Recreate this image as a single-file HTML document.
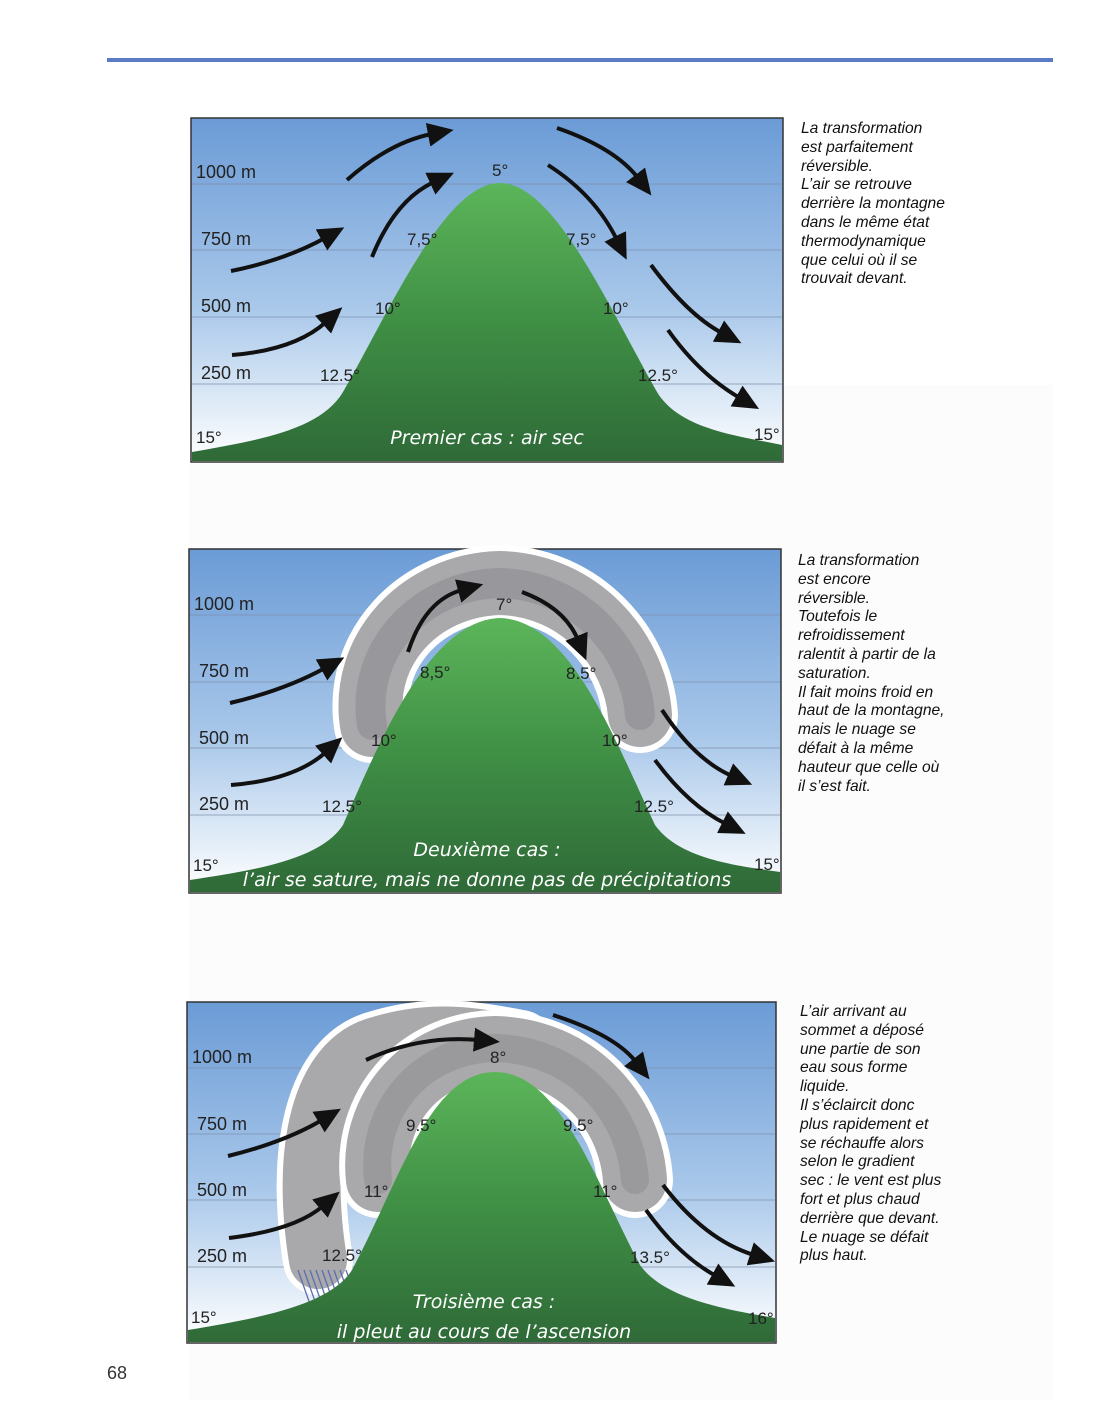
<!DOCTYPE html>
<html><head><meta charset="utf-8"><style>
html,body{margin:0;padding:0;background:#fff;}
body{width:1100px;height:1422px;position:relative;overflow:hidden;font-family:"Liberation Sans",sans-serif;}
.t{position:absolute;font-style:italic;font-size:15.6px;line-height:18.8px;color:#111;}
</style></head><body>
<svg width="1100" height="1422" style="position:absolute;left:0;top:0" font-family="Liberation Sans, sans-serif">
<defs>
<linearGradient id="sky" x1="0" y1="0" x2="0" y2="1">
<stop offset="0" stop-color="#6b9bd6"/><stop offset="0.55" stop-color="#a9c8ea"/><stop offset="1" stop-color="#ffffff"/></linearGradient>
<linearGradient id="mt" x1="0" y1="0" x2="0" y2="1">
<stop offset="0" stop-color="#5cb55a"/><stop offset="0.5" stop-color="#3f8f45"/><stop offset="1" stop-color="#2f6a38"/></linearGradient>
<marker id="ah" markerUnits="userSpaceOnUse" markerWidth="26" markerHeight="24" refX="4" refY="12" orient="auto">
<path d="M0,0 L26,12 L0,24 Z" fill="#111"/></marker>
</defs>
<rect x="0" y="0" width="1100" height="1422" fill="#fff"/>
<rect x="190" y="385" width="863" height="1015" fill="#fcfcfc"/>
<rect x="107" y="58" width="946" height="4" fill="#5b7cc4"/>

<!-- Panel 1 -->
<g>
<rect x="191" y="118" width="592" height="344" fill="url(#sky)" stroke="#333" stroke-width="1.5"/>
<g stroke="#7a8ea8" stroke-width="1" opacity="0.7"><line x1="192" y1="184" x2="782" y2="184"/><line x1="192" y1="250" x2="782" y2="250"/><line x1="192" y1="317" x2="782" y2="317"/><line x1="192" y1="384" x2="782" y2="384"/></g>
<path d="M192,461 L192,452 C260,440 320,430 343,392 C390,310 445,183 500,183 C555,183 610,310 657,392 C680,430 740,436 782,445 L782,461 Z" fill="url(#mt)"/>
<g font-size="18" fill="#222"><text x="196" y="178">1000 m</text><text x="201" y="245">750 m</text><text x="201" y="312">500 m</text><text x="201" y="379">250 m</text></g>
<g font-size="17" fill="#222"><text x="492" y="176">5°</text><text x="407" y="245">7,5°</text><text x="566" y="245">7,5°</text><text x="375" y="314">10°</text><text x="603" y="314">10°</text><text x="320" y="381">12.5°</text><text x="638" y="381">12.5°</text><text x="196" y="443">15°</text><text x="754" y="440">15°</text></g>
<text x="487" y="444" font-size="19" fill="#fff" text-anchor="middle" font-family="DejaVu Sans, sans-serif" font-style="italic">Premier cas : air sec</text>
<g fill="none" stroke="#111" stroke-width="4" marker-end="url(#ah)">
<path d="M347,180 Q390,142 432,134"/><path d="M372,257 Q395,200 434,182"/><path d="M231,271 Q285,260 325,238"/><path d="M232,355 Q295,350 326,322"/>
<path d="M557,128 Q615,148 638,178"/><path d="M548,165 Q595,195 617,240"/><path d="M651,265 Q688,315 722,333"/><path d="M668,330 Q700,375 740,398"/></g>
</g>

<!-- Panel 2 -->
<g>
<rect x="189" y="549" width="592" height="344" fill="url(#sky)" stroke="#333" stroke-width="1.5"/>
<g stroke="#7a8ea8" stroke-width="1" opacity="0.7"><line x1="190" y1="615" x2="780" y2="615"/><line x1="190" y1="682" x2="780" y2="682"/><line x1="190" y1="748" x2="780" y2="748"/><line x1="190" y1="815" x2="780" y2="815"/></g>
<g fill="none" stroke-linecap="round">
<path d="M372,725 C360,650 420,585 500,583 C580,585 635,650 640,715" stroke="#fff" stroke-width="76"/>
<path d="M372,725 C360,650 420,585 500,583 C580,585 635,650 640,715" stroke="#a9a9ab" stroke-width="64"/>
<path d="M372,725 C360,650 420,585 500,583 C580,585 635,650 640,715" stroke="#8e8e92" stroke-width="30" opacity="0.6"/>
</g>
<path d="M190,892 L190,880 C255,870 320,860 343,825 C380,740 430,620 500,618 C570,620 615,740 655,825 C680,860 740,866 780,872 L780,892 Z" fill="url(#mt)"/>
<g font-size="18" fill="#222"><text x="194" y="610">1000 m</text><text x="199" y="677">750 m</text><text x="199" y="744">500 m</text><text x="199" y="810">250 m</text></g>
<g font-size="17" fill="#222"><text x="496" y="610">7°</text><text x="420" y="678">8,5°</text><text x="566" y="679">8.5°</text><text x="371" y="746">10°</text><text x="602" y="746">10°</text><text x="322" y="812">12.5°</text><text x="634" y="812">12.5°</text><text x="193" y="871">15°</text><text x="754" y="870">15°</text></g>
<g font-size="19" fill="#fff" text-anchor="middle" font-family="DejaVu Sans, sans-serif" font-style="italic"><text x="487" y="856">Deuxième cas :</text><text x="487" y="886">l’air se sature, mais ne donne pas de précipitations</text></g>
<g fill="none" stroke="#111" stroke-width="4" marker-end="url(#ah)">
<path d="M408,652 Q425,600 462,590"/><path d="M522,592 Q565,608 578,640"/><path d="M230,703 Q285,690 325,668"/><path d="M231,785 Q295,780 326,752"/>
<path d="M662,710 Q695,760 732,776"/><path d="M655,760 Q688,805 726,824"/></g>
</g>

<!-- Panel 3 -->
<g>
<rect x="187" y="1002" width="589" height="341" fill="url(#sky)" stroke="#333" stroke-width="1.5"/>
<g stroke="#7a8ea8" stroke-width="1" opacity="0.7"><line x1="188" y1="1068" x2="775" y2="1068"/><line x1="188" y1="1134" x2="775" y2="1134"/><line x1="188" y1="1200" x2="775" y2="1200"/><line x1="188" y1="1267" x2="775" y2="1267"/></g>
<g fill="none" stroke-linecap="round">
<path d="M318,1260 C300,1150 320,1060 380,1045 C430,1030 470,1035 520,1045" stroke="#fff" stroke-width="70"/>
<path d="M318,1260 C300,1150 320,1060 380,1045 C430,1030 470,1035 520,1045" stroke="#a9a9ab" stroke-width="58"/>
<path d="M378,1180 C370,1110 420,1050 495,1048 C575,1050 630,1110 635,1180" stroke="#fff" stroke-width="76"/>
<path d="M378,1180 C370,1110 420,1050 495,1048 C575,1050 630,1110 635,1180" stroke="#a9a9ab" stroke-width="64"/>
<path d="M378,1180 C370,1110 420,1050 495,1048 C575,1050 630,1110 635,1180" stroke="#8e8e92" stroke-width="28" opacity="0.55"/>
</g>
<g stroke="#5a6fb0" stroke-width="1.3"><line x1="298" y1="1270" x2="312" y2="1310"/><line x1="304" y1="1270" x2="318" y2="1310"/><line x1="310" y1="1270" x2="324" y2="1310"/><line x1="316" y1="1270" x2="330" y2="1310"/><line x1="322" y1="1270" x2="336" y2="1310"/><line x1="328" y1="1270" x2="342" y2="1310"/><line x1="334" y1="1270" x2="348" y2="1310"/><line x1="340" y1="1270" x2="354" y2="1310"/><line x1="346" y1="1270" x2="360" y2="1310"/></g>
<path d="M188,1342 L188,1330 C260,1318 330,1305 352,1270 C400,1180 430,1072 495,1072 C560,1072 595,1180 640,1265 C665,1300 730,1310 775,1318 L775,1342 Z" fill="url(#mt)"/>
<g font-size="18" fill="#222"><text x="192" y="1063">1000 m</text><text x="197" y="1130">750 m</text><text x="197" y="1196">500 m</text><text x="197" y="1262">250 m</text></g>
<g font-size="17" fill="#222"><text x="490" y="1063">8°</text><text x="406" y="1131">9.5°</text><text x="563" y="1131">9.5°</text><text x="364" y="1197">11°</text><text x="593" y="1197">11°</text><text x="322" y="1261">12.5°</text><text x="630" y="1263">13.5°</text><text x="191" y="1323">15°</text><text x="748" y="1324">16°</text></g>
<g font-size="19" fill="#fff" text-anchor="middle" font-family="DejaVu Sans, sans-serif" font-style="italic"><text x="484" y="1308">Troisième cas :</text><text x="484" y="1338">il pleut au cours de l’ascension</text></g>
<g fill="none" stroke="#111" stroke-width="4" marker-end="url(#ah)">
<path d="M366,1060 Q420,1035 478,1040"/><path d="M553,1015 Q615,1035 636,1062"/><path d="M228,1156 Q285,1142 322,1120"/><path d="M229,1238 Q295,1230 323,1206"/>
<path d="M663,1185 Q705,1240 754,1255"/><path d="M646,1210 Q678,1255 716,1276"/></g>
</g>
<text x="107" y="1379" font-size="18" fill="#333">68</text>
</svg>
<div class="t" style="left:801px;top:120px">La transformation<br>est parfaitement<br>réversible.<br>L’air se retrouve<br>derrière la montagne<br>dans le même état<br>thermodynamique<br>que celui où il se<br>trouvait devant.</div>
<div class="t" style="left:798px;top:552px">La transformation<br>est encore<br>réversible.<br>Toutefois le<br>refroidissement<br>ralentit à partir de la<br>saturation.<br>Il fait moins froid en<br>haut de la montagne,<br>mais le nuage se<br>défait à la même<br>hauteur que celle où<br>il s’est fait.</div>
<div class="t" style="left:800px;top:1003px">L’air arrivant au<br>sommet a déposé<br>une partie de son<br>eau sous forme<br>liquide.<br>Il s’éclaircit donc<br>plus rapidement et<br>se réchauffe alors<br>selon le gradient<br>sec : le vent est plus<br>fort et plus chaud<br>derrière que devant.<br>Le nuage se défait<br>plus haut.</div>
</body></html>
